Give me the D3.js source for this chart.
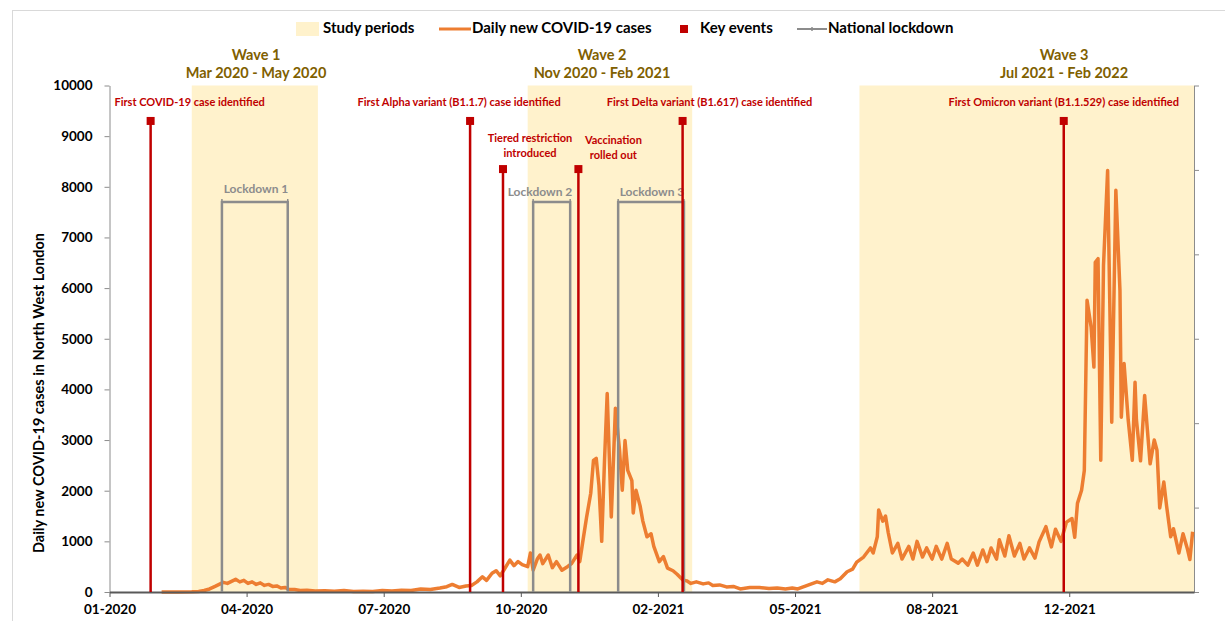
<!DOCTYPE html>
<html><head><meta charset="utf-8">
<script src="https://cdn.jsdelivr.net/npm/d3@7"></script>
<style>
body{margin:0;background:#fff}
svg{display:block;font-family:Lato,"Open Sans",sans-serif;font-weight:bold}
</style></head><body>
<svg id="c" width="1225" height="621"></svg>
<script>
// ---------- DATA ----------
const caseDates = ["2020-02-08","2020-02-20","2020-03-01","2020-03-06","2020-03-10","2020-03-14","2020-03-18","2020-03-21","2020-03-24","2020-03-27","2020-03-30","2020-04-02","2020-04-05","2020-04-08","2020-04-11","2020-04-14","2020-04-17","2020-04-20","2020-04-23","2020-04-26","2020-04-29","2020-05-02","2020-05-05","2020-05-08","2020-05-11","2020-05-15","2020-05-19","2020-05-24","2020-05-30","2020-06-06","2020-06-13","2020-06-20","2020-06-27","2020-07-04","2020-07-11","2020-07-18","2020-07-25","2020-08-01","2020-08-08","2020-08-15","2020-08-22","2020-08-29","2020-09-03","2020-09-07","2020-09-12","2020-09-17","2020-09-21","2020-09-25","2020-09-29","2020-10-02","2020-10-06","2020-10-09","2020-10-12","2020-10-15","2020-10-19","2020-10-22","2020-10-25","2020-10-28","2020-11-01","2020-11-03","2020-11-05","2020-11-08","2020-11-10","2020-11-12","2020-11-16","2020-11-19","2020-11-22","2020-11-26","2020-11-30","2020-12-03","2020-12-07","2020-12-09","2020-12-11","2020-12-14","2020-12-17","2020-12-19","2020-12-21","2020-12-23","2020-12-25","2020-12-27","2020-12-29","2021-01-01","2021-01-04","2021-01-07","2021-01-09","2021-01-11","2021-01-13","2021-01-16","2021-01-17","2021-01-19","2021-01-22","2021-01-24","2021-01-27","2021-01-30","2021-02-01","2021-02-05","2021-02-08","2021-02-11","2021-02-15","2021-02-18","2021-02-22","2021-02-25","2021-02-28","2021-03-04","2021-03-09","2021-03-13","2021-03-16","2021-03-21","2021-03-26","2021-03-31","2021-04-05","2021-04-12","2021-04-19","2021-04-26","2021-05-02","2021-05-08","2021-05-13","2021-05-17","2021-05-21","2021-05-26","2021-05-31","2021-06-04","2021-06-08","2021-06-13","2021-06-17","2021-06-22","2021-06-26","2021-06-29","2021-07-04","2021-07-09","2021-07-11","2021-07-14","2021-07-15","2021-07-18","2021-07-20","2021-07-22","2021-07-25","2021-07-29","2021-08-01","2021-08-06","2021-08-09","2021-08-12","2021-08-16","2021-08-19","2021-08-23","2021-08-26","2021-08-30","2021-09-03","2021-09-06","2021-09-11","2021-09-14","2021-09-18","2021-09-22","2021-09-25","2021-09-29","2021-10-02","2021-10-05","2021-10-09","2021-10-11","2021-10-15","2021-10-18","2021-10-22","2021-10-26","2021-10-29","2021-11-02","2021-11-06","2021-11-09","2021-11-14","2021-11-16","2021-11-18","2021-11-21","2021-11-25","2021-11-29","2021-12-03","2021-12-05","2021-12-07","2021-12-10","2021-12-12","2021-12-14","2021-12-17","2021-12-19","2021-12-20","2021-12-22","2021-12-24","2021-12-26","2021-12-29","2022-01-01","2022-01-04","2022-01-07","2022-01-08","2022-01-10","2022-01-13","2022-01-16","2022-01-18","2022-01-19","2022-01-22","2022-01-25","2022-01-27","2022-01-29","2022-02-01","2022-02-03","2022-02-05","2022-02-08","2022-02-10","2022-02-13","2022-02-15","2022-02-19","2022-02-22","2022-02-25","2022-02-27","2022-03-01"];
const caseValues = [0,0,3,10,30,60,110,150,190,170,210,250,200,230,170,200,150,180,130,150,110,120,80,90,50,50,30,35,20,25,15,30,10,15,10,30,20,35,30,60,50,80,105,150,90,120,130,200,300,230,370,420,320,450,630,520,600,540,500,770,430,650,730,560,730,480,600,430,500,560,730,600,960,1480,1950,2600,2640,2100,1000,2560,3920,1480,3630,2800,2010,2990,2400,2200,1560,2010,1700,1400,1090,1150,900,600,700,470,420,350,240,220,170,200,160,180,130,140,100,110,60,90,90,70,80,60,80,60,100,150,200,170,240,200,260,400,450,590,690,870,770,1090,1620,1400,1500,1170,770,960,650,900,650,1000,690,870,650,900,650,960,650,570,650,530,770,530,830,600,870,650,1030,710,1110,710,960,650,870,670,990,1290,1080,890,1240,1000,1380,1450,1080,1750,2010,2400,5760,5220,4440,6510,6580,2600,6450,8320,3350,7930,5950,3450,4510,3400,2600,4140,3400,2590,3880,3200,2530,3000,2800,1660,2170,1700,1090,1250,770,1150,870,640,1190];

const waveNames = ["Wave 1","Wave 2","Wave 3"];
const waveRanges = ["Mar 2020 - May 2020","Nov 2020 - Feb 2021","Jul 2021 - Feb 2022"];
const waveStarts = ["2020-03-01","2020-11-01","2021-07-01"];
const waveEnds = ["2020-06-01","2021-03-01","2022-03-02"];

const eventLabels = [["First COVID-19 case identified"],["First Alpha variant (B1.1.7) case identified"],["Tiered restriction","introduced"],["Vaccination","rolled out"],["First Delta variant (B1.617) case identified"],["First Omicron variant (B1.1.529) case identified"]];
const eventDates = ["2020-01-31","2020-09-20","2020-10-14","2020-12-08","2021-02-22","2021-11-27"];
const eventHeights = [9300,9300,8350,8350,9300,9300];

const lockdownNames = ["Lockdown 1","Lockdown 2","Lockdown 3"];
const lockdownStarts = ["2020-03-23","2020-11-05","2021-01-06"];
const lockdownEnds = ["2020-05-10","2020-12-02","2021-02-23"];
const lockdownLevel = 7700;

const yTicks = [0,1000,2000,3000,4000,5000,6000,7000,8000,9000,10000];
const xTickDates = ["2020-01-01","2020-04-10","2020-07-19","2020-10-27","2021-02-04","2021-05-15","2021-08-23","2021-12-01"];
const xTickLabels = ["01-2020","04-2020","07-2020","10-2020","02-2021","05-2021","08-2021","12-2021"];
const legendLabels = ["Study periods","Daily new COVID-19 cases","Key events","National lockdown"];
const yTitle = "Daily new COVID-19 cases in North West London";

// ---------- LAYOUT ----------
const P = {left:109.5, right:1194, top:85.5, bottom:592};
const C = {shade:"#FFF2CC", orange:"#ED7D31", red:"#C00000", gray:"#8C8C8C", olive:"#7F6000", axis:"#595959"};
const eventLabelPos = [{dx:39,y:103},{dx:-11,y:103},{dx:27,y:139},{dx:35,y:141},{dx:27,y:103},{dx:0,y:103}];
const waveLabelX = [256,602,1064];
const lockdownLabelPos = [{x:256,y:190},{x:540,y:193},{x:652,y:193}];

const parse = d3.utcParse("%Y-%m-%d");
const svg = d3.select("#c");

const x = d3.scaleUtc().domain([parse("2020-01-01"), parse("2022-03-02")]).range([P.left, P.right]);
const y = d3.scaleLinear().domain([0,10000]).range([P.bottom, P.top]);
const y2 = d3.scaleLinear().domain([0,6]).range([P.bottom, P.top]);

// frame
svg.append("rect").attr("x",12.5).attr("y",10.5).attr("width",1240).attr("height",640)
  .attr("fill","none").attr("stroke","#d9d9d9");

// study periods
svg.append("g").selectAll("rect").data(waveStarts).join("rect")
  .attr("x",(d)=>x(parse(d)))
  .attr("width",(d,i)=>x(parse(waveEnds[i]))-x(parse(d)))
  .attr("y",y(10000)).attr("height",y(0)-y(10000))
  .attr("fill",C.shade);

// wave labels
waveNames.forEach((n,i)=>{
  const g = svg.append("g").attr("fill",C.olive).attr("font-size",14.5).attr("text-anchor","middle");
  g.append("text").attr("x",waveLabelX[i]).attr("y",56).attr("dominant-baseline","middle").text(n);
  g.append("text").attr("x",waveLabelX[i]).attr("y",74).attr("dominant-baseline","middle").text(waveRanges[i]);
});

// left axis
const ya = svg.append("g").attr("transform",`translate(${P.left},0)`)
  .call(d3.axisLeft(y).tickValues(yTicks).tickSize(5).tickPadding(12).tickSizeOuter(0).tickFormat(d3.format("d")));
ya.select(".domain").attr("stroke","#8c8c8c");
ya.selectAll(".tick line").attr("stroke","#8c8c8c");
ya.selectAll("text").attr("font-size",13.5).attr("font-family","Lato, sans-serif").attr("font-weight","bold").attr("fill","#000");

// right axis
const ra = svg.append("g").attr("transform",`translate(${P.right},0)`)
  .call(d3.axisRight(y2).ticks(6).tickSize(5).tickSizeOuter(0).tickFormat(""));
ra.select(".domain").attr("stroke","#8c8c8c");
ra.selectAll(".tick line").attr("stroke","#8c8c8c");

// y title
svg.append("text").attr("transform","translate(40,393) rotate(-90)").attr("text-anchor","middle")
  .attr("dominant-baseline","middle").attr("font-size",14.5).text(yTitle);

// case line
const line = d3.line().x((d,i)=>x(parse(caseDates[i]))).y(d=>y(d)).curve(d3.curveLinear);
svg.append("path").datum(caseValues).attr("d",line).attr("fill","none")
  .attr("stroke",C.orange).attr("stroke-width",3.5).attr("stroke-linejoin","round");

// x axis
const xa = svg.append("g").attr("transform",`translate(0,${P.bottom})`)
  .call(d3.axisBottom(x).tickValues(xTickDates.map(parse)).tickSize(5).tickPadding(7).tickSizeOuter(0)
    .tickFormat((d,i)=>xTickLabels[i]));
xa.select(".domain").attr("stroke",C.axis).attr("stroke-width",2);
xa.selectAll(".tick line").attr("stroke",C.axis);
xa.selectAll("text").attr("font-size",13.5).attr("font-family","Lato, sans-serif").attr("font-weight","bold").attr("fill","#000");

// lockdowns
lockdownNames.forEach((n,i)=>{
  const a = x(parse(lockdownStarts[i])), b = x(parse(lockdownEnds[i]));
  const pts = [[a,y(0)],[a,y(lockdownLevel)],[b,y(lockdownLevel)],[b,y(0)]];
  svg.append("path").attr("d",d3.line()(pts)).attr("fill","none").attr("stroke",C.gray).attr("stroke-width",2.5);
  [a,b].forEach(v=>svg.append("line").attr("x1",v).attr("x2",v).attr("y1",y(lockdownLevel)-3).attr("y2",y(lockdownLevel)+1)
     .attr("stroke",C.gray).attr("stroke-width",1.5));
  svg.append("text").attr("x",lockdownLabelPos[i].x).attr("y",lockdownLabelPos[i].y).attr("text-anchor","middle")
     .attr("dominant-baseline","middle").attr("font-size",12).attr("fill",C.gray).text(n);
});

// key events
eventDates.forEach((d,i)=>{
  const ex = x(parse(d));
  svg.append("line").attr("x1",ex).attr("x2",ex).attr("y1",y(0)).attr("y2",y(eventHeights[i]))
     .attr("stroke",C.red).attr("stroke-width",2.5);
  svg.append("rect").attr("x",ex-4).attr("y",y(eventHeights[i])-4).attr("width",8).attr("height",8).attr("fill",C.red);
  eventLabels[i].forEach((t,j)=>{
    svg.append("text").attr("x",ex+eventLabelPos[i].dx).attr("y",eventLabelPos[i].y+j*15)
      .attr("text-anchor","middle").attr("dominant-baseline","middle").attr("font-size",11).attr("fill",C.red).text(t);
  });
});

// legend
const lg = svg.append("g").attr("font-size",15);
lg.append("rect").attr("x",296).attr("y",22).attr("width",23).attr("height",14).attr("fill",C.shade);
lg.append("text").attr("x",323).attr("y",29).attr("dominant-baseline","middle").text(legendLabels[0]);
lg.append("line").attr("x1",439).attr("x2",471).attr("y1",29).attr("y2",29).attr("stroke",C.orange).attr("stroke-width",3);
lg.append("text").attr("x",472).attr("y",29).attr("dominant-baseline","middle").text(legendLabels[1]);
lg.append("rect").attr("x",680).attr("y",25).attr("width",8).attr("height",8).attr("fill",C.red);
lg.append("text").attr("x",700).attr("y",29).attr("dominant-baseline","middle").text(legendLabels[2]);
lg.append("line").attr("x1",797).attr("x2",827).attr("y1",29).attr("y2",29).attr("stroke",C.gray).attr("stroke-width",2);
lg.append("line").attr("x1",812).attr("x2",812).attr("y1",27).attr("y2",31).attr("stroke",C.gray).attr("stroke-width",1.5);
lg.append("text").attr("x",828).attr("y",29).attr("dominant-baseline","middle").text(legendLabels[3]);
</script>
</body></html>
